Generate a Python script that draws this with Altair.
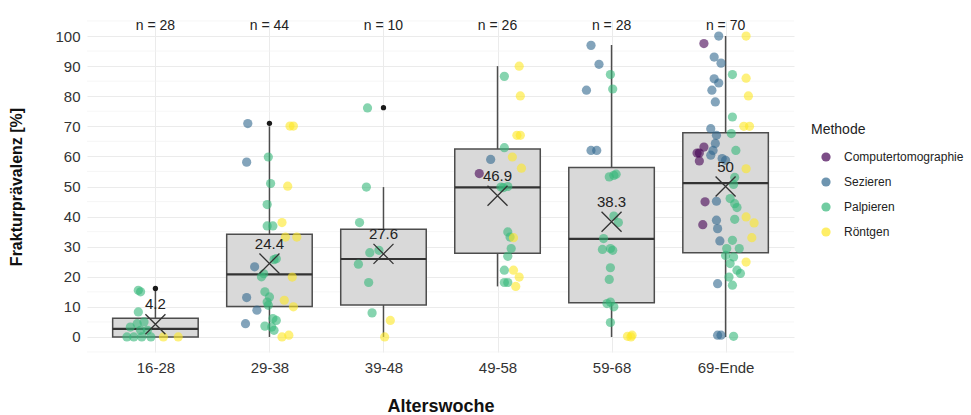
import altair as alt
import pandas as pd

# ---------------- data ----------------
groups = ["16-28", "29-38", "39-48", "49-58", "59-68", "69-Ende"]
n_counts = [28, 44, 10, 26, 28, 70]
means = [4.2, 24.4, 27.6, 46.9, 38.3, 50]
q1 = [0.0, 10.1, 10.6, 27.8, 11.4, 28.0]
med = [2.7, 20.8, 25.9, 49.7, 32.6, 51.1]
q3 = [6.2, 34.1, 35.8, 62.5, 56.3, 67.9]
w_lo = [0.0, 0.0, 0.0, 16.8, 0.0, 0.0]
w_hi = [15.5, 70.0, 49.8, 90.0, 97.0, 100.0]
outlier_group = [0, 1, 2]
outlier_val = [16.1, 71.0, 76.2]

methods = ["Computertomographie", "Sezieren", "Palpieren", "Röntgen"]
method_code = {"C": "Computertomographie", "S": "Sezieren", "P": "Palpieren", "R": "Röntgen"}
colors = ["#440154", "#31688E", "#35B779", "#FDE725"]

y_ticks = [0, 10, 20, 30, 40, 50, 60, 70, 80, 90, 100]
y_minor = [-5, 5, 15, 25, 35, 45, 55, 65, 75, 85, 95, 105]

# jittered observations per age group: value, horizontal jitter, method
g0_y = [15.5, 15.0, 8.3, 5.0, 4.4, 3.3, 2.2, 2.2, 0.0, 0.0, 0.0, 0.0, 0.0, 0.0]
g0_dx = [-0.15, -0.13, -0.15, -0.10, -0.16, -0.22, -0.13, -0.07, -0.25, -0.19, -0.12, -0.04, 0.07, 0.20]
g0_m = "PPPPPPPPPPPPRR"

g1_y = [70.9, 70.1, 70.1, 59.8, 58.1, 51.0, 50.1, 44.0, 36.9, 36.9, 38.0, 33.2, 33.2, 25.7, 26.0,
        23.3, 21.0, 20.0, 19.9, 13.1, 15.0, 13.3, 11.6, 10.5, 12.2, 10.0, 8.9, 6.1, 5.5, 4.4,
        3.6, 3.3, 2.2, 0.0, 0.6]
g1_dx = [-0.19, 0.18, 0.21, -0.01, -0.20, 0.01, 0.16, -0.02, -0.02, 0.03, 0.11, 0.14, 0.24, 0.04, 0.06,
         -0.13, -0.05, -0.07, 0.20, -0.20, -0.04, 0.00, -0.02, -0.01, 0.13, 0.21, -0.11, 0.03, 0.06, -0.21,
         -0.04, 0.02, 0.04, 0.11, 0.17]
g1_m = "SRRPSPRPPPRRRPPSPPRSPPPPRRSPPSPPPRR"

g2_y = [76.1, 49.8, 38.0, 28.0, 28.8, 24.2, 18.1, 8.0, 5.5, 0.0]
g2_dx = [-0.14, -0.15, -0.21, -0.12, -0.04, -0.22, -0.13, -0.10, 0.06, 0.01]
g2_m = "PPPPPPPPRR"

g3_y = [90.0, 86.6, 80.1, 67.0, 67.0, 62.9, 59.8, 59.0, 56.1, 54.3, 49.8, 50.0, 49.6, 34.9, 33.2,
        29.4, 26.8, 33.0, 22.2, 18.1, 18.1, 22.2, 19.9, 16.8]
g3_dx = [0.19, 0.06, 0.20, 0.17, 0.20, 0.06, 0.13, -0.06, 0.21, -0.16, 0.03, 0.09, 0.05, 0.09, 0.11,
         0.12, 0.09, 0.14, 0.06, 0.06, 0.09, 0.14, 0.19, 0.16]
g3_m = "RPRRRPRSRCPPPPPPPRPPPRRR"

g4_y = [96.9, 90.6, 87.2, 82.0, 82.4, 62.0, 62.0, 53.2, 53.7, 54.1, 40.2, 38.0, 32.7, 29.1, 29.4,
        28.8, 23.0, 19.1, 11.1, 10.0, 11.6, 4.8, 0.2, 0.6, 0.0]
g4_dx = [-0.18, -0.11, -0.01, -0.22, 0.01, -0.18, -0.13, -0.02, 0.02, 0.04, 0.02, 0.06, -0.07, -0.08, -0.01,
         0.01, -0.01, -0.02, -0.04, 0.02, -0.01, -0.01, 0.14, 0.18, 0.17]
g4_m = "SSPSPSSPPPPPPPPPPPPPPPRRR"

g5_y = [100.0, 100.0, 97.5, 93.0, 91.0, 87.2, 86.0, 85.8, 84.4, 82.0, 78.1, 80.1, 73.1, 70.0, 70.0,
        69.2, 67.6, 67.0, 64.3, 62.0, 60.4, 63.1, 61.1, 58.5, 61.1, 59.3, 58.7, 62.0, 55.9, 53.0,
        50.7, 44.9, 45.1, 46.0, 44.3, 43.0, 39.1, 39.9, 37.9, 38.8, 36.0, 37.3, 33.0, 31.9, 32.1,
        29.4, 29.4, 27.1, 26.6, 24.4, 22.2, 19.9, 17.2, 21.1, 24.9, 17.7, 0.6, 0.6, 0.2]
g5_dx = [-0.06, 0.18, -0.19, -0.10, -0.04, 0.06, 0.18, -0.10, -0.06, -0.12, -0.09, 0.20, 0.06, 0.16, 0.21,
         -0.13, 0.05, -0.08, -0.09, -0.11, -0.13, -0.19, -0.23, -0.23, -0.25, -0.03, 0.00, 0.09, 0.18, 0.08,
         0.07, -0.18, -0.08, 0.04, 0.08, 0.10, 0.08, 0.18, 0.25, -0.08, -0.07, -0.20, 0.23, -0.05, 0.06,
         0.01, 0.12, 0.00, 0.07, 0.04, 0.10, 0.03, 0.06, 0.13, 0.18, -0.07, -0.07, -0.04, 0.07]
g5_m = "SRCSSPRSSSSRPRRSPSSSSCCCCSSPRPPCSPPPPRRSSCRSPPPPPPPPPPRSSSP"

# ---------------- tables ----------------
point_sets = [(g0_y, g0_dx, g0_m), (g1_y, g1_dx, g1_m), (g2_y, g2_dx, g2_m),
              (g3_y, g3_dx, g3_m), (g4_y, g4_dx, g4_m), (g5_y, g5_dx, g5_m)]
rows = []
for gi, (ys, dxs, ms) in enumerate(point_sets):
    for yv, dx, mc in zip(ys, dxs, ms):
        rows.append({"x": gi + dx, "y": yv, "Methode": method_code[mc]})
points = pd.DataFrame(rows)

half = 0.375
boxes = pd.DataFrame({
    "x": list(range(len(groups))),
    "xl": [i - half for i in range(len(groups))],
    "xr": [i + half for i in range(len(groups))],
    "q1": q1, "med": med, "q3": q3, "lo": w_lo, "hi": w_hi,
    "mean": means,
    "mean_lab": [f"{m:g}" for m in means],
    "n_lab": [f"n = {n}" for n in n_counts],
    "n_y": [103.5] * len(groups),
})
outl = pd.DataFrame({"x": outlier_group, "y": outlier_val})
minor = pd.DataFrame({"y": y_minor})

label_expr = "[" + ",".join(f"'{g}'" for g in groups) + "][datum.value]"
xscale = alt.Scale(domain=[-0.6, len(groups) - 0.4], nice=False, zero=False)
yscale = alt.Scale(domain=[-5, 105], nice=False, zero=False)
XT = "Alterswoche"
YT = "Frakturprävalenz [%]"
xaxis = alt.Axis(values=list(range(len(groups))), labelExpr=label_expr, title=XT,
                 grid=True, labelPadding=8, titlePadding=22, labelOverlap=False)
yaxis = alt.Axis(values=y_ticks, title=YT, grid=True, tickCount=11,
                 labelPadding=7, titlePadding=30, labelOverlap=False)


def X(field):
    return alt.X(field, scale=xscale, axis=xaxis, title=XT)


def Y(field):
    return alt.Y(field, scale=yscale, axis=yaxis, title=YT)


minor_layer = alt.Chart(minor).mark_rule(color="#F2F2F2", strokeWidth=0.7).encode(y=Y("y:Q"))

whisker = alt.Chart(boxes).mark_rule(color="#4D4D4D", strokeWidth=1.5).encode(
    x=X("x:Q"), y=Y("lo:Q"), y2="hi:Q",
)
box = alt.Chart(boxes).mark_bar(fill="#D9D9D9", stroke="#4D4D4D", strokeWidth=1.5).encode(
    x=X("xl:Q"), x2="xr:Q", y=Y("q1:Q"), y2="q3:Q",
)
median = alt.Chart(boxes).mark_rule(color="#333333", strokeWidth=2.2).encode(
    x=X("xl:Q"), x2="xr:Q", y=Y("med:Q"),
)
outliers = alt.Chart(outl).mark_circle(color="#1A1A1A", size=28, opacity=1).encode(
    x=X("x:Q"), y=Y("y:Q"),
)
jitter = alt.Chart(points).mark_circle(size=85, opacity=0.6).encode(
    x=X("x:Q"), y=Y("y:Q"),
    color=alt.Color("Methode:N", scale=alt.Scale(domain=methods, range=colors), sort=methods,
                    legend=alt.Legend(title="Methode", orient="none", legendX=724, legendY=102,
                                      symbolType="circle", symbolSize=85, symbolOpacity=0.7,
                                      symbolOffset=9, labelOffset=12, rowPadding=13,
                                      titlePadding=14, labelFontSize=12, titleFontSize=14,
                                      labelFont="Liberation Sans", titleFont="Liberation Sans",
                                      titleFontWeight="normal", labelColor="#222222",
                                      titleColor="#222222")),
)
mean_x = alt.Chart(boxes).mark_point(shape="M-1,-1L1,1M-1,1L1,-1", size=400, filled=False,
                                     color="#333333", strokeWidth=1.3, opacity=1).encode(
    x=X("x:Q"), y=Y("mean:Q"),
)
mean_text = alt.Chart(boxes).mark_text(dy=-20, fontSize=15, font="Liberation Sans",
                                       color="#222222").encode(
    x=X("x:Q"), y=Y("mean:Q"), text="mean_lab:N",
)
n_text = alt.Chart(boxes).mark_text(fontSize=14, font="Liberation Sans", color="#222222",
                                    baseline="middle").encode(
    x=X("x:Q"), y=Y("n_y:Q"), text="n_lab:N",
)

chart = alt.layer(
    minor_layer, whisker, box, median, outliers, jitter, mean_x, mean_text, n_text
).properties(
    width=707, height=331,
    autosize=alt.AutoSizeParams(type="none"),
    padding={"left": 87, "top": 21, "right": 177, "bottom": 63},
).configure_view(stroke=None).configure_axis(
    domain=False, ticks=False, gridColor="#EBEBEB", gridWidth=1,
    labelFont="Liberation Sans", labelFontSize=15, labelColor="#333333",
    titleFont="Liberation Sans", titleColor="#111111", titleFontWeight="bold",
    labelOverlap=False,
).configure_axisX(titleFontSize=18).configure_axisY(titleFontSize=16)

chart.save("out.html", embed_options={"renderer": "svg", "actions": False})
